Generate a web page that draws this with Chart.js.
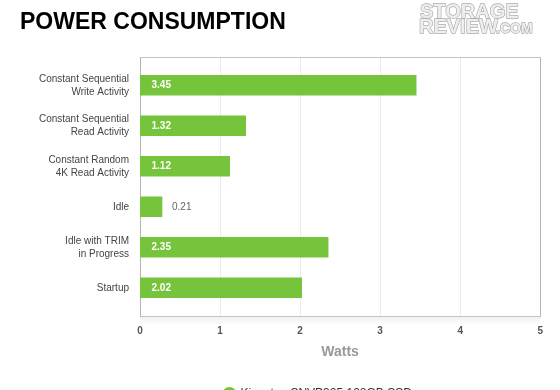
<!DOCTYPE html>
<html>
<head>
<meta charset="utf-8">
<script src="https://cdn.jsdelivr.net/npm/chart.js@4.4.0/dist/chart.umd.min.js"></script>
<style>
  html, body { margin: 0; padding: 0; background: #fff; overflow: hidden; }
  #wrap { position: relative; width: 560px; height: 410px; }
</style>
</head>
<body>
<div id="wrap"><canvas id="c" width="560" height="410"></canvas></div>
<script>
const categories = [
  ["Constant Sequential", "Write Activity"],
  ["Constant Sequential", "Read Activity"],
  ["Constant Random", "4K Read Activity"],
  "Idle",
  ["Idle with TRIM", "in Progress"],
  "Startup"
];
const watts = [3.45, 1.32, 1.12, 0.21, 2.35, 2.02];
const seriesName = "Kingston SNVP325 128GB SSD";
const chartTitle = "POWER CONSUMPTION";
const axisTitle = "Watts";
const xTicks = [0, 1, 2, 3, 4, 5];

const GREEN = "#76c43c";
const FONT = "'Liberation Sans', Arial, Helvetica, sans-serif";

const framePlugin = {
  id: "frame",
  afterLayout(chart) {
    // legend in the reference sits a little left of the plot centre
    if (chart.legend) { chart.legend.left -= 22; chart.legend.right -= 22; }
  },
  beforeDatasetsDraw(chart) {
    const { ctx, chartArea: a } = chart;
    const xs = chart.scales.x;
    const top = a.top - 8, bottom = a.bottom + 9;
    ctx.save();
    const g = ctx.createLinearGradient(0, bottom, 0, bottom + 8);
    g.addColorStop(0, "rgba(0,0,0,0.06)");
    g.addColorStop(1, "rgba(0,0,0,0)");
    ctx.fillStyle = g;
    ctx.fillRect(a.left, bottom, a.right - a.left, 8);
    ctx.lineWidth = 1;
    xTicks.forEach((t, i) => {
      const x = Math.round(xs.getPixelForValue(t)) + 0.5;
      ctx.strokeStyle = (i === 0 || i === xTicks.length - 1) ? "#b4b4b4" : "#ebebeb";
      ctx.beginPath(); ctx.moveTo(x, top); ctx.lineTo(x, bottom); ctx.stroke();
    });
    ctx.strokeStyle = "#c4c4c4";
    const l = Math.round(xs.getPixelForValue(xTicks[0])) + 0.5;
    const r = Math.round(xs.getPixelForValue(xTicks[xTicks.length - 1])) + 0.5;
    ctx.beginPath(); ctx.moveTo(l, top + 0.5); ctx.lineTo(r, top + 0.5); ctx.stroke();
    ctx.beginPath(); ctx.moveTo(l, bottom - 0.5); ctx.lineTo(r, bottom - 0.5); ctx.stroke();
    ctx.restore();
  },
  afterDatasetsDraw(chart) {
    const { ctx } = chart;
    const meta = chart.getDatasetMeta(0);
    ctx.save();
    ctx.textBaseline = "middle";
    ctx.textAlign = "left";
    meta.data.forEach((bar, i) => {
      const v = chart.data.datasets[0].data[i];
      const txt = v.toFixed(2);
      const w = bar.x - bar.base;
      if (w > 40) {
        ctx.font = "bold 10px " + FONT;
        ctx.fillStyle = "#ffffff";
        ctx.fillText(txt, bar.base + 11.5, bar.y);
      } else {
        ctx.font = "10px " + FONT;
        ctx.fillStyle = "#666666";
        ctx.fillText(txt, bar.x + 10, bar.y);
      }
    });
    ctx.restore();
  },
  afterDraw(chart) {
    const { ctx } = chart;
    ctx.save();
    ctx.textBaseline = "alphabetic";
    ctx.textAlign = "left";
    ctx.fillStyle = "#000";
    ctx.font = "bold 23px " + FONT;
    ctx.fillText(chartTitle, 20, 28.5);
    // logo
    ctx.lineJoin = "round";
    ctx.lineWidth = 1.3;
    ctx.strokeStyle = "#aaaaaa";
    ctx.fillStyle = "#eeeeee";
    ctx.font = "bold 20px " + FONT;
    ctx.strokeText("STORAGE", 420, 17.5);
    ctx.fillText("STORAGE", 420, 17.5);
    ctx.strokeText("REVIEW", 419, 33);
    ctx.fillText("REVIEW", 419, 33);
    ctx.font = "bold 14px " + FONT;
    ctx.strokeText(".COM", 496, 33);
    ctx.fillText(".COM", 496, 33);
    ctx.restore();
  }
};

new Chart(document.getElementById("c"), {
  type: "bar",
  data: {
    labels: categories,
    datasets: [{
      label: seriesName,
      data: watts,
      backgroundColor: GREEN,
      borderWidth: 0,
      barThickness: 20,
      minBarLength: 22
    }]
  },
  options: {
    indexAxis: "y",
    responsive: false,
    animation: false,
    events: [],
    layout: { padding: { top: 65, left: 20, right: 19, bottom: 0 } },
    scales: {
      x: {
        type: "linear",
        min: 0, max: 5,
        afterBuildTicks: s => { s.ticks = xTicks.map(v => ({ value: v })); },
        afterFit: s => { s.height = 70; },
        grid: { display: false, drawTicks: false },
        border: { display: false },
        ticks: { padding: 17, color: "#555", font: { family: FONT, size: 10, weight: "bold" } },
        title: {
          display: true, text: axisTitle, color: "#999",
          font: { family: FONT, size: 14, weight: "bold" },
          padding: { top: 0, bottom: 17 }
        }
      },
      y: {
        afterFit: s => { s.width = 120; },
        grid: { display: false, drawTicks: false },
        border: { display: false },
        ticks: { padding: 11, color: "#444", font: { family: FONT, size: 10, lineHeight: 1.3 } }
      }
    },
    plugins: {
      legend: {
        position: "bottom",
        fullSize: false,
        labels: {
          usePointStyle: true,
          pointStyle: "circle",
          boxWidth: 10, boxHeight: 10,
          padding: 10,
          color: "#333",
          font: { family: FONT, size: 12 }
        }
      },
      tooltip: { enabled: false }
    }
  },
  plugins: [framePlugin]
});
</script>
</body>
</html>
